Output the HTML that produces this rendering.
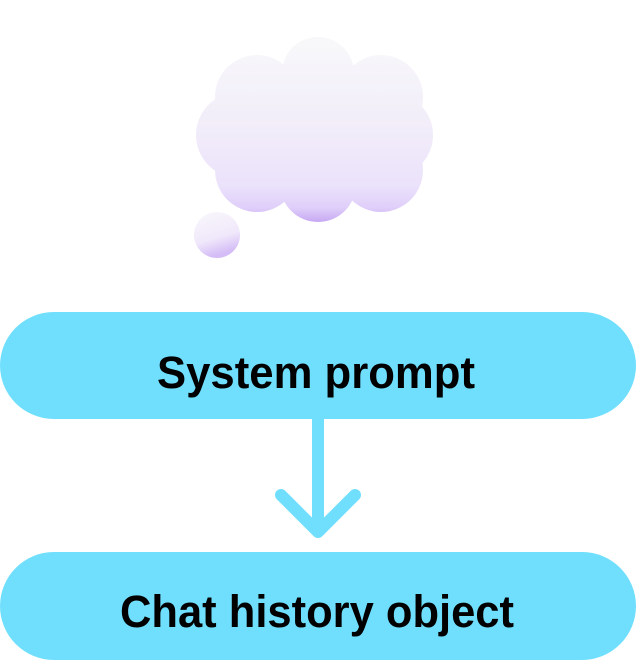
<!DOCTYPE html>
<html><head><meta charset="utf-8"><style>
html,body{margin:0;padding:0;background:#fff;width:636px;height:660px;overflow:hidden}
</style></head><body>
<svg width="636" height="660" viewBox="0 0 636 660" xmlns="http://www.w3.org/2000/svg">
<defs>
<linearGradient id="cg" gradientUnits="userSpaceOnUse" x1="0" y1="40" x2="0" y2="222">
<stop offset="0" stop-color="#f8f8fa"/>
<stop offset="0.5" stop-color="#f1ecf9"/>
<stop offset="0.8" stop-color="#ebe2fb"/>
<stop offset="0.92" stop-color="#e0cffa"/>
<stop offset="1" stop-color="#c7a8f3"/>
</linearGradient>
<linearGradient id="sg" x1="0" y1="0" x2="0.3" y2="1">
<stop offset="0" stop-color="#f9f8fb"/>
<stop offset="0.65" stop-color="#f0e8fb"/>
<stop offset="1" stop-color="#d4bcf6"/>
</linearGradient>
</defs>
<g fill="url(#cg)">
<circle cx="318" cy="73" r="36"/>
<circle cx="257" cy="97" r="42"/>
<circle cx="381" cy="97" r="42"/>
<circle cx="239" cy="135" r="43"/>
<circle cx="391" cy="135" r="42"/>
<circle cx="257" cy="170" r="42"/>
<circle cx="381" cy="170" r="42"/>
<circle cx="318" cy="184" r="38"/>
<rect x="240" y="80" width="155" height="110"/>
</g>
<circle cx="217" cy="235" r="23" fill="url(#sg)"/>
<rect x="0" y="312" width="636" height="107" rx="54" fill="#70dffd"/>
<rect x="0" y="552" width="636" height="108" rx="54" fill="#70dffd"/>
<line x1="318" y1="419" x2="318" y2="528" stroke="#70dffd" stroke-width="12"/>
<polyline points="281,495 318,532 355,495" fill="none" stroke="#70dffd" stroke-width="12" stroke-linecap="round" stroke-linejoin="round"/>
<text x="157" y="388" font-family="Liberation Sans, sans-serif" font-size="45" font-weight="bold" textLength="318" lengthAdjust="spacingAndGlyphs" fill="#000">System prompt</text>
<text x="120" y="627" font-family="Liberation Sans, sans-serif" font-size="45" font-weight="bold" textLength="394" lengthAdjust="spacingAndGlyphs" fill="#000">Chat history object</text>
</svg>
</body></html>
